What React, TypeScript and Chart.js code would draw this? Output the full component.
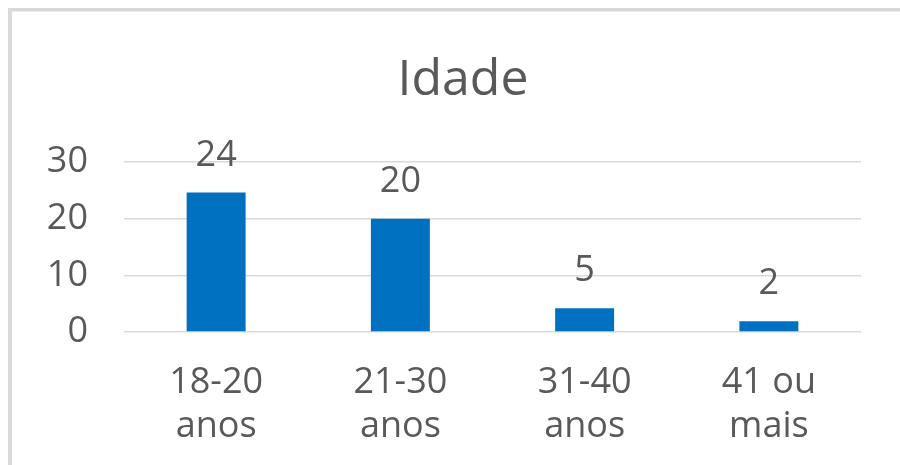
import React, { useEffect, useRef } from "react";
import { Chart, registerables } from "chart.js";

Chart.register(...registerables);

const title = "Idade";
const categories: string[][] = [
  ["18-20", "anos"],
  ["21-30", "anos"],
  ["31-40", "anos"],
  ["41 ou", "mais"],
];
const barValues = [24.6, 20, 4.2, 1.9];
const valueLabels = ["24", "20", "5", "2"];
const yTicks = [0, 10, 20, 30];

const TEXT = "#595959";
const GRID = "#d9d9d9";
const BAR = "#0070C0";
const FONT = "'Open Sans', sans-serif";

export default function App() {
  const ref = useRef<HTMLCanvasElement | null>(null);

  useEffect(() => {
    if (!ref.current) return;
    const framePlugin = {
      id: "frame",
      beforeDraw(chart: any) {
        const ctx = chart.ctx;
        ctx.save();
        ctx.fillStyle = "#ffffff";
        ctx.fillRect(0, 0, chart.width, chart.height);
        ctx.fillStyle = GRID;
        ctx.fillRect(8, 8, chart.width - 8, 3.5);
        ctx.fillRect(8, 8, 4, chart.height - 8);
        ctx.restore();
      },
      afterDraw(chart: any) {
        const ctx = chart.ctx;
        ctx.save();
        ctx.fillStyle = TEXT;
        ctx.font = `50px ${FONT}`;
        ctx.textAlign = "center";
        ctx.textBaseline = "alphabetic";
        ctx.fillText(title, 463, 95);
        ctx.font = `36px ${FONT}`;
        const meta = chart.getDatasetMeta(0);
        meta.data.forEach((el: any, i: number) => {
          ctx.fillText(valueLabels[i], el.x, el.y - 27);
        });
        ctx.restore();
      },
    };

    const chart = new Chart(ref.current, {
      type: "bar",
      data: {
        labels: categories,
        datasets: [
          {
            data: barValues,
            backgroundColor: BAR,
            borderWidth: 0,
            barPercentage: 0.64,
            categoryPercentage: 0.5,
          },
        ],
      },
      options: {
        responsive: false,
        animation: false,
        devicePixelRatio: 1,
        layout: { padding: { left: 0, right: 39, top: 162, bottom: 0 } },
        plugins: {
          legend: { display: false },
          title: { display: false },
          tooltip: { enabled: false },
        },
        scales: {
          x: {
            grid: { display: false, drawTicks: false },
            border: { display: false },
            ticks: {
              color: TEXT,
              font: { family: FONT, size: 36, lineHeight: 1.22 },
              padding: 29,
              maxRotation: 0,
              autoSkip: false,
            },
            afterFit(scale: any) {
              scale.height = 465 - 332;
            },
          },
          y: {
            min: 0,
            max: 30,
            grid: { color: GRID, lineWidth: 1.5, drawTicks: false },
            border: { display: false },
            ticks: {
              color: TEXT,
              font: { family: FONT, size: 36 },
              padding: 36,
              stepSize: 10,
              callback: (v: any) => (yTicks.includes(Number(v)) ? String(v) : ""),
            },
            afterFit(scale: any) {
              scale.width = 124;
            },
          },
        },
      },
      plugins: [framePlugin],
    });
    return () => chart.destroy();
  }, []);

  return (
    <div style={{ position: "fixed", left: 0, top: 0, width: 900, height: 465 }}>
      <canvas ref={ref} width={900} height={465} style={{ width: 900, height: 465 }} />
    </div>
  );
}
